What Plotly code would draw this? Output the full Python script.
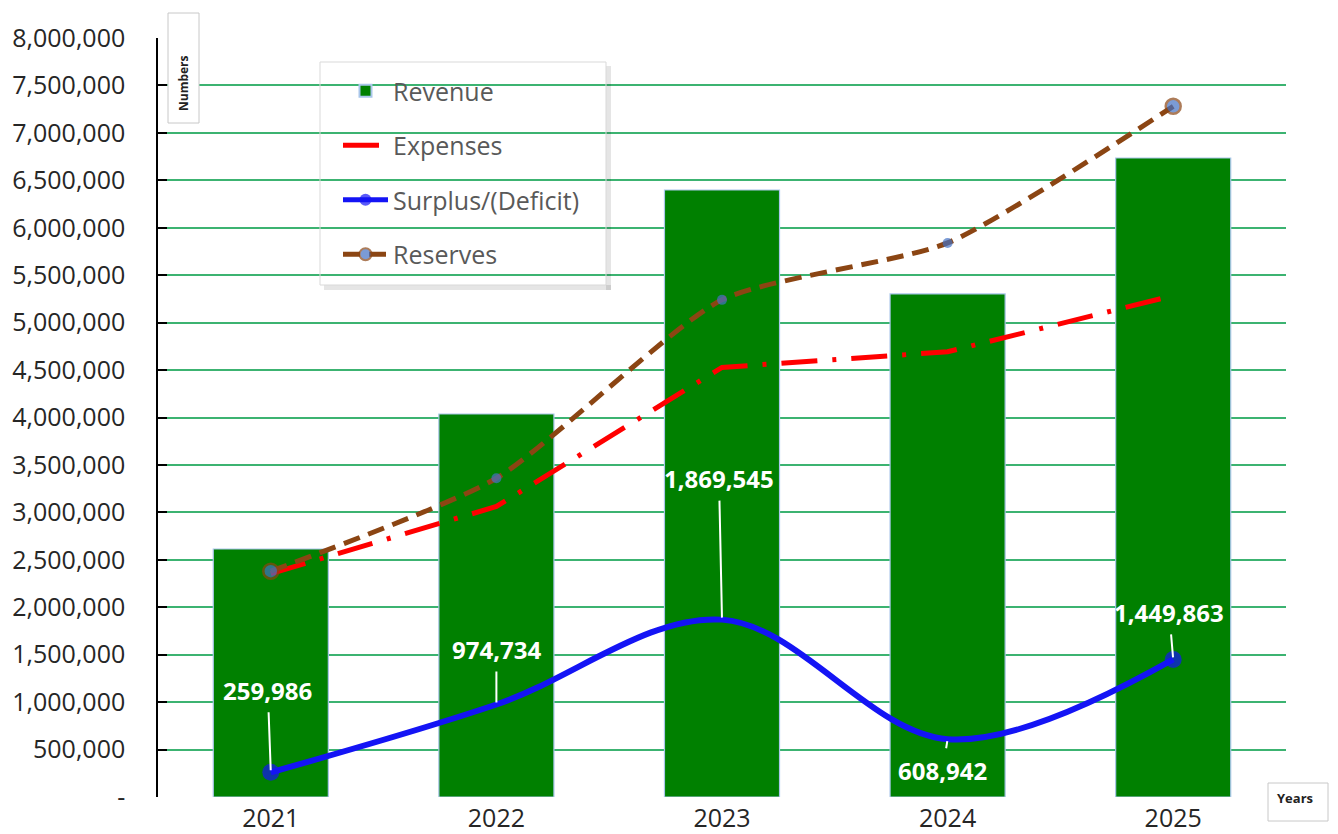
import plotly.graph_objects as go

years = ["2021", "2022", "2023", "2024", "2025"]
revenue = [2614000, 4037000, 6398000, 5302000, 6735000]
expenses = [2354000, 3062000, 4528000, 4693000, 5285000]
surplus = [259986, 974734, 1869545, 608942, 1449863]
reserves = [2380000, 3360000, 5240000, 5840000, 7280000]
surplus_labels = ["259,986", "974,734", "1,869,545", "608,942", "1,449,863"]
label_ax = [-3, 0, -3, -5, -4]
label_ay = [-82, -55, -141, 31, -47]

y_ticks = list(range(0, 8000001, 500000))
y_ticktext = ["-"] + [f"{v:,}" for v in y_ticks[1:]]

FONT = "Open Sans, Noto Sans, sans-serif"

# plot-area geometry (screen px) used for paper-coordinate decorations
PX0, PX1, PY0, PY1 = 158, 1286, 797, 38


def px(X):
    return (X - PX0) / (PX1 - PX0)


def py(Y):
    return (PY0 - Y) / (PY0 - PY1)


fig = go.Figure()
fig.add_trace(go.Bar(
    x=years, y=revenue, name="Revenue", legendgroup="a",
    marker=dict(color="#008000", line=dict(color="#a9c6ea", width=1.2)),
))
fig.add_trace(go.Scatter(
    x=years, y=expenses, name="Expenses", legendgroup="b", mode="lines",
    line=dict(color="#ff0000", width=5, dash="36px,15px,4px,15px"),
))
fig.add_trace(go.Scatter(
    x=years, y=surplus, name="Surplus/(Deficit)", legendgroup="c", mode="lines+markers",
    line=dict(color="#1414f5", width=6, shape="spline", smoothing=1),
    marker=dict(color="#1414f5", size=[17, 0, 0, 0, 17], line=dict(width=0)),
))
fig.add_trace(go.Scatter(
    x=years, y=reserves, name="Reserves", legendgroup="d", mode="lines+markers",
    line=dict(color="#8b4513", width=5, dash="17px,9px", shape="spline", smoothing=0.6),
    marker=dict(color="#4472c4", size=[15, 10, 10, 10, 15],
                line=dict(color="#8b4513", width=[2.5, 0, 0, 0, 2.5])),
))

annotations = []
for i, (y, t, ax, ay) in enumerate(zip(surplus, surplus_labels, label_ax, label_ay)):
    annotations.append(dict(
        x=i, y=y, xref="x", yref="y", text=f"<b>{t}</b>", showarrow=True,
        arrowhead=0, arrowwidth=2, arrowcolor="white", ax=ax, ay=ay,
        standoff=2, startstandoff=4,
        font=dict(family=FONT, size=24, color="white"),
    ))

annotations.append(dict(
    xref="paper", yref="paper", x=px(183), y=py(83),
    xanchor="center", yanchor="middle",
    text="<b>Numbers</b>", textangle=-90, showarrow=False,
    font=dict(family=FONT, size=12, color="#222"),
))
annotations.append(dict(
    xref="paper", yref="paper", x=px(1275), y=py(798),
    xanchor="left", yanchor="middle",
    text="<b>Years</b>", showarrow=False,
    font=dict(family=FONT, size=13, color="#222"),
))

shapes = [
    # axis title boxes
    dict(type="rect", xref="paper", yref="paper",
         x0=px(168), x1=px(199), y0=py(123), y1=py(13),
         line=dict(color="#c8c8c8", width=1), fillcolor="white", layer="above"),
    dict(type="rect", xref="paper", yref="paper",
         x0=px(1268), x1=px(1328), y0=py(821), y1=py(783),
         line=dict(color="#c8c8c8", width=1), fillcolor="white", layer="above"),
    # legend frame + shadow
    dict(type="rect", xref="paper", yref="paper",
         x0=px(606), x1=px(611), y0=py(290), y1=py(66),
         line=dict(width=0), fillcolor="rgba(0,0,0,0.10)", layer="above"),
    dict(type="rect", xref="paper", yref="paper",
         x0=px(324), x1=px(611), y0=py(290), y1=py(285),
         line=dict(width=0), fillcolor="rgba(0,0,0,0.10)", layer="above"),
    dict(type="rect", xref="paper", yref="paper",
         x0=px(320), x1=px(606), y0=py(285), y1=py(62),
         line=dict(color="#d9d9d9", width=1), fillcolor="rgba(0,0,0,0)", layer="above"),
]

fig.update_layout(
    width=1338, height=834,
    margin=dict(l=150, r=60, t=30, b=45, autoexpand=False),
    paper_bgcolor="white", plot_bgcolor="white",
    bargap=0.49,
    font=dict(family=FONT, size=22, color="#222"),
    showlegend=True,
    legend=dict(
        x=px(338), y=py(68), xanchor="left", yanchor="top",
        bgcolor="rgba(0,0,0,0)", borderwidth=0,
        font=dict(family=FONT, size=25, color="#595959"),
        tracegroupgap=19, itemwidth=45, traceorder="grouped",
        itemsizing="constant",
    ),
    xaxis=dict(
        type="category", showgrid=False, showline=False, ticks="",
        range=[-0.5, 4.5], ticklabelstandoff=4, automargin=False,
        tickfont=dict(family=FONT, size=25, color="#262626"),
    ),
    yaxis=dict(
        range=[0, 8000000], tickvals=y_ticks, ticktext=y_ticktext,
        showgrid=True, gridcolor="#3cb371", gridwidth=1.5,
        showline=True, linecolor="black", linewidth=1.5,
        ticks="inside", ticklen=9, tickcolor="black", tickwidth=1.5,
        zeroline=False, ticklabelstandoff=26, automargin=False,
        tickfont=dict(family=FONT, size=25, color="#262626"),
    ),
    annotations=annotations,
    shapes=shapes,
)

fig.write_html("out.html")
